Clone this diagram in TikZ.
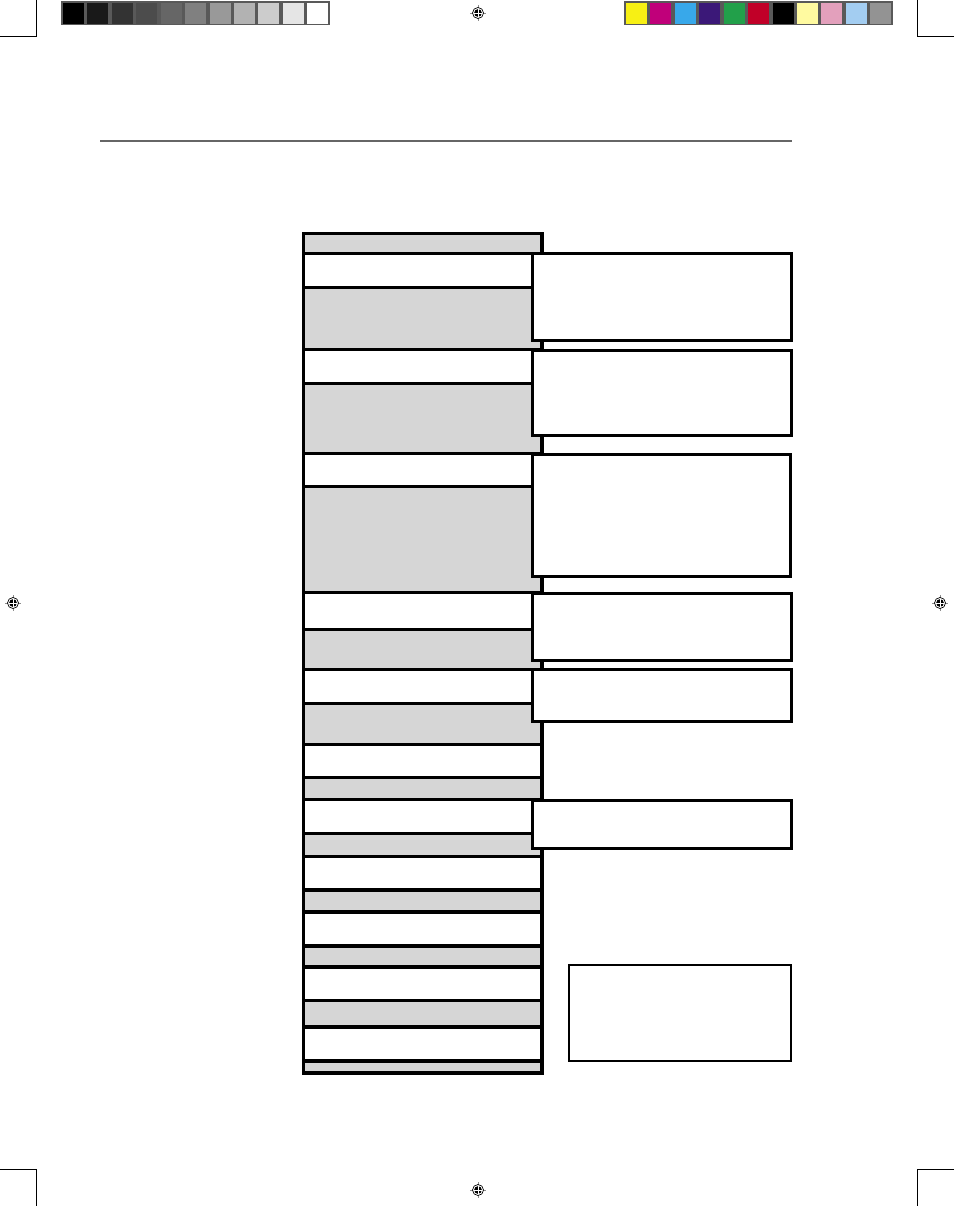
\documentclass[tikz,border=0pt]{standalone}
\usepackage{tikz}
\definecolor{panelgray}{HTML}{D6D6D6}
\definecolor{barframe}{HTML}{595959}
\definecolor{ruleline}{HTML}{666666}
\definecolor{cyellow}{HTML}{F7F014}
\definecolor{cmagenta}{HTML}{C0007A}
\definecolor{ccyan}{HTML}{38A8EA}
\definecolor{cpurple}{HTML}{3B1878}
\definecolor{cgreen}{HTML}{22A04A}
\definecolor{cred}{HTML}{C10028}
\definecolor{clyellow}{HTML}{FFFAA0}
\definecolor{cpink}{HTML}{E3A0BC}
\definecolor{clblue}{HTML}{A3CDF1}
\definecolor{cgray}{HTML}{939393}
\def\regmark(#1){%
  \draw[line width=0.5, color=black!45] ($(#1)+(-8,0)$) -- ($(#1)+(8,0)$);
  \draw[line width=0.5, color=black!45] ($(#1)+(0,-8)$) -- ($(#1)+(0,8)$);
  \draw[line width=0.7, fill=white] (#1) circle (5.5);
  \draw[fill=black] (#1) circle (3.6);
  \draw[line width=0.8, color=white] ($(#1)+(-3.6,0)$) -- ($(#1)+(3.6,0)$);
  \draw[line width=0.8, color=white] ($(#1)+(0,-3.6)$) -- ($(#1)+(0,3.6)$);}
\usetikzlibrary{calc}

\begin{document}
\begin{tikzpicture}[x=1pt, y=-1pt]
		%%%%% START %%%%%
		\useasboundingbox (0, 0) rectangle (954, 1206);
		
		% crop marks
		\draw[line width=0.8] (0, 36) -- (36, 36) -- (36, 0);
		\draw[line width=0.8] (954, 36) -- (917, 36) -- (917, 0);
		\draw[line width=0.8] (0, 1169) -- (36, 1169) -- (36, 1206);
		\draw[line width=0.8] (954, 1169) -- (917, 1169) -- (917, 1206);
		
		% registration marks
		\regmark(478, 13)
		\regmark(13, 603)
		\regmark(940, 603)
		\regmark(478, 1190)
		
		% gray bar
		\fill[barframe] (61, 1) rectangle (330, 25.5);
		\fill[black] (63, 3) rectangle (84, 24);
		\fill[black!90] (87.4, 3) rectangle (108.4, 24);
		\fill[black!80] (111.9, 3) rectangle (132.9, 24);
		\fill[black!70] (136.3, 3) rectangle (157.3, 24);
		\fill[black!60] (160.7, 3) rectangle (181.7, 24);
		\fill[black!50] (185.2, 3) rectangle (206.2, 24);
		\fill[black!40] (209.6, 3) rectangle (230.6, 24);
		\fill[black!30] (234, 3) rectangle (255, 24);
		\fill[black!20] (258.4, 3) rectangle (279.4, 24);
		\fill[black!10] (282.9, 3) rectangle (303.9, 24);
		\fill[white] (307.3, 3) rectangle (328.3, 24);
		
		% colour bar
		\fill[barframe] (624, 1) rectangle (893, 25.5);
		\fill[cyellow] (626, 3) rectangle (647, 24);
		\fill[cmagenta] (650.4, 3) rectangle (671.4, 24);
		\fill[ccyan] (674.9, 3) rectangle (695.9, 24);
		\fill[cpurple] (699.3, 3) rectangle (720.3, 24);
		\fill[cgreen] (723.7, 3) rectangle (744.7, 24);
		\fill[cred] (748.2, 3) rectangle (769.2, 24);
		\fill[black] (772.6, 3) rectangle (793.6, 24);
		\fill[clyellow] (797, 3) rectangle (818, 24);
		\fill[cpink] (821.4, 3) rectangle (842.4, 24);
		\fill[clblue] (845.9, 3) rectangle (866.9, 24);
		\fill[cgray] (870.3, 3) rectangle (891.3, 24);
		
		% rule
		\draw[line width=2, color=ruleline] (100, 141) -- (792, 141);
		
		% column
		\draw[line width=3, fill=panelgray] (303.5, 233.5) rectangle (542, 1073);
		\draw[line width=3, fill=white] (303.5, 253.5) rectangle (542, 287);
		\draw[line width=3, fill=white] (303.5, 349) rectangle (542, 383.3);
		\draw[line width=3, fill=white] (303.5, 453) rectangle (542, 486.5);
		\draw[line width=3, fill=white] (303.5, 592.5) rectangle (542, 629.5);
		\draw[line width=3, fill=white] (303.5, 669.5) rectangle (542, 703.5);
		\draw[line width=3, fill=white] (303.5, 744) rectangle (542, 777.5);
		\draw[line width=3, fill=white] (303.5, 799.5) rectangle (542, 833.5);
		\draw[line width=3.5, fill=white] (303.5, 856.5) rectangle (542, 890);
		\draw[line width=3.5, fill=white] (303.5, 912) rectangle (542, 946);
		\draw[line width=3.5, fill=white] (303.5, 967) rectangle (542, 1000.5);
		\draw[line width=3.5, fill=white] (303.5, 1027) rectangle (542, 1061);
		\draw[line width=3.5] (303.5, 233.5) rectangle (542, 1073);
		
		% callouts
		\draw[line width=3, fill=white] (532.5, 253) rectangle (791.3, 340);
		\draw[line width=3, fill=white] (532, 350) rectangle (791.3, 435);
		\draw[line width=3, fill=white] (532, 454) rectangle (790, 576.7);
		\draw[line width=3, fill=white] (532, 593) rectangle (791.3, 660);
		\draw[line width=3, fill=white] (532, 669) rectangle (791.3, 721.7);
		\draw[line width=3, fill=white] (532, 800.5) rectangle (791.3, 848.7);
		\draw[line width=2, fill=white] (569, 965) rectangle (791.3, 1061);
		
		%%%%% END %%%%%
	\end{tikzpicture}
\end{document}
